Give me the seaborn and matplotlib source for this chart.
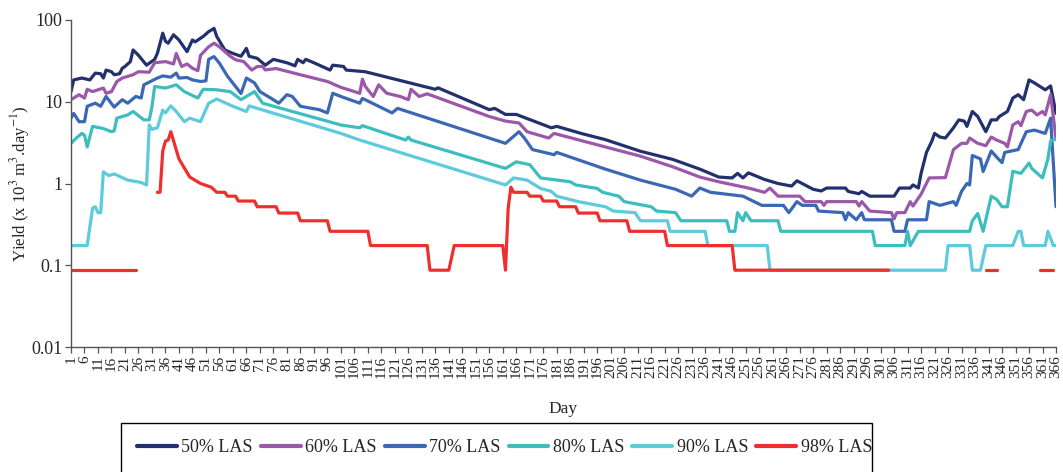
import numpy as np
import pandas as pd
import matplotlib
matplotlib.use('Agg')
import matplotlib.pyplot as plt
from matplotlib.patches import Rectangle
import seaborn as sns

# groundwater yield per level of assurance (LAS)
# each series: breakpoint days and values, np.nan = gap (no yield)
d50 = [1, 2, 5, 8, 10, 12, 13, 14, 16, 17, 19, 20, 21, 23, 24, 26, 29, 32, 33, 35, 36, 37, 39, 41,
       44, 46, 47, 50, 52, 54, 55, 58, 61, 64, 66, 67, 70, 73, 76, 81, 84, 85, 87, 88, 91, 97, 98,
       102, 103, 110, 136, 137, 156, 158, 162, 166, 179, 181, 190, 199, 212, 224, 234, 241, 246,
       248, 250, 252, 258, 263, 268, 270, 276, 279, 281, 288, 289, 293, 294, 297, 306, 308, 312,
       313, 315, 316, 318, 320, 321, 323, 325, 328, 330, 332, 333, 335, 337, 340, 342, 344, 345,
       348, 350, 352, 354, 356, 358, 362, 364, 366]
v50 = [13.3, 18.5, 19.5, 18.5, 22.4, 22, 19.5, 24.4, 23.3, 21.4, 22, 25.7, 27, 31, 43, 37, 28, 33,
       39, 69, 55, 52, 66, 57, 41, 57, 54, 63, 72, 79, 63, 43, 39, 36, 45, 36, 34, 28, 33, 30, 27.5,
       33, 30, 33, 30, 24.4, 28, 27, 24.4, 23.3, 14.2, 14.8, 8, 8.3, 7, 7, 4.8, 5.0, 4.1, 3.44, 2.48,
       1.97, 1.5, 1.2, 1.17, 1.33, 1.17, 1.35, 1.12, 1.0, 0.93, 1.08, 0.85, 0.81, 0.88, 0.88, 0.8,
       0.75, 0.8, 0.7, 0.7, 0.88, 0.88, 0.96, 0.88, 1.33, 2.4, 3.3, 4.1, 3.7, 3.6, 4.8, 6.0, 5.8,
       5.0, 7.6, 6.6, 4.3, 6.0, 6.0, 6.6, 7.6, 11.1, 12.2, 10.6, 18.5, 17, 14, 15.6, 7.2]

d60 = [1, 4, 6, 7, 9, 11, 13, 14, 16, 18, 20, 24, 26, 30, 32, 36, 39, 40, 42, 44, 46, 48, 49, 52,
       54, 56, 60, 62, 65, 68, 70, 72, 73, 77, 86, 96, 101, 108, 109, 110, 113, 115, 118, 123, 126,
       127, 130, 133, 156, 162, 167, 170, 178, 180, 199, 212, 224, 234, 241, 252, 258, 260, 263,
       271, 273, 279, 280, 281, 292, 293, 294, 297, 305, 306, 307, 310, 312, 313, 316, 319, 325,
       328, 331, 333, 334, 337, 340, 342, 344, 347, 348, 350, 352, 353, 355, 357, 359, 361, 362,
       364, 366]
v60 = [10.6, 12.2, 11.1, 14.2, 13.3, 14, 14.7, 12.7, 13.3, 17.7, 19.5, 21.4, 23.3, 23, 30, 31, 29,
       39, 27, 29, 25.7, 24, 37, 47, 52, 47, 36, 32.6, 31, 24.4, 27, 27, 24.5, 25.5, 21.4, 17.7, 15,
       12.7, 18.9, 15.5, 11.6, 16.1, 12.7, 11.6, 10.6, 14.2, 11.6, 12.5, 6.6, 5.8, 5.5, 4.3, 3.6,
       4.1, 2.8, 2.16, 1.6, 1.2, 1.05, 0.88, 0.78, 0.88, 0.7, 0.7, 0.6, 0.6, 0.54, 0.6, 0.6, 0.53,
       0.6, 0.46, 0.44, 0.37, 0.44, 0.44, 0.6, 0.53, 0.74, 1.17, 1.18, 2.6, 3.1, 3.1, 3.6, 3.1, 2.9,
       3.7, 3.4, 3.1, 2.8, 5.2, 5.7, 5.1, 7.6, 7.9, 6.9, 7.6, 6.9, 12.2, 3.5]

d70 = [1, 2, 4, 6, 7, 10, 12, 14, 17, 20, 22, 25, 27, 28, 33, 35, 38, 40, 41, 44, 46, 49, 51, 52,
       54, 56, 59, 61, 64, 66, 69, 71, 75, 78, 81, 83, 86, 93, 96, 98, 101, 108, 109, 120, 122, 162,
       167, 169, 172, 180, 181, 199, 212, 225, 231, 234, 238, 250, 257, 265, 267, 270, 272, 277,
       278, 287, 288, 289, 292, 294, 295, 305, 306, 310, 311, 318, 319, 323, 328, 329, 331, 333,
       334, 335, 338, 339, 342, 344, 346, 347, 352, 355, 358, 362, 364, 366]
v70 = [6.3, 7.2, 5.7, 5.7, 8.8, 9.6, 8.8, 11.6, 8.6, 10.6, 9.6, 11.6, 11.1, 16.1, 19.5, 20.7, 20,
       22.4, 19.5, 19.8, 18.5, 17.7, 18, 33, 35.7, 29.6, 20.5, 16.9, 12.6, 19.5, 17, 13.3, 11.1, 9.6,
       12.2, 11.6, 8.8, 8.0, 7.3, 12.7, 11.6, 9.6, 11, 7.3, 8.3, 3.1, 4.3, 3.6, 2.6, 2.25, 2.4, 1.5,
       1.1, 0.85, 0.7, 0.88, 0.78, 0.7, 0.54, 0.54, 0.44, 0.6, 0.54, 0.54, 0.46, 0.44, 0.36, 0.44,
       0.36, 0.44, 0.36, 0.36, 0.26, 0.26, 0.36, 0.36, 0.6, 0.54, 0.6, 0.54, 0.8, 1.0, 0.96, 2.2,
       2.0, 1.4, 2.5, 2.1, 1.8, 2.4, 2.6, 4.3, 4.5, 4.1, 6.3, 0.52]

d80 = [1, 3, 5, 6, 7, 9, 13, 16, 17, 18, 22, 24, 28, 30, 31, 32, 36, 40, 43, 48, 50, 55, 60, 64,
       69, 72, 101, 108, 109, 125, 126, 127, 162, 166, 171, 175, 186, 188, 196, 198, 204, 206, 216,
       218, 225, 227, 244, 245, 247, 248, 250, 251, 253, 263, 264, 298, 299, 310, 311, 312, 315,
       334, 335, 337, 339, 342, 344, 346, 348, 350, 353, 356, 357, 361, 363, 364, 366]
v80 = [3.1, 3.6, 4.1, 3.9, 2.8, 5.0, 4.7, 4.3, 4.4, 6.3, 6.9, 7.6, 6.0, 6.0, 8.7, 15.4, 14.7,
       16.1, 13.3, 11.1, 14.2, 14, 13.3, 10.6, 13.3, 9.6, 5.2, 4.8, 5.1, 3.4, 3.7, 3.4, 1.53, 1.84,
       1.7, 1.17, 1.05, 0.96, 0.87, 0.78, 0.7, 0.6, 0.52, 0.46, 0.44, 0.35, 0.35, 0.26, 0.26, 0.44,
       0.35, 0.44, 0.35, 0.35, 0.26, 0.26, 0.174, 0.174, 0.26, 0.174, 0.26, 0.26, 0.35, 0.43, 0.26,
       0.7, 0.64, 0.52, 0.52, 1.41, 1.33, 1.78, 1.53, 1.17, 2.0, 3.3, 3.5]

d90 = [1, 7, 9, 10, 11, 12, 13, 15, 17, 22, 27, 29, 30, 31, 33, 35, 36, 38, 40, 43, 45, 49, 52,
       55, 61, 66, 67, 101, 108, 162, 165, 170, 175, 179, 181, 189, 199, 202, 210, 212, 222, 223,
       236, 237, 259, 260, 325, 326, 334, 335, 338, 340, 350, 352, 353, 354, 362, 363, 365, 366]
v90 = [0.174, 0.174, 0.5, 0.52, 0.44, 0.44, 1.39, 1.25, 1.31, 1.1, 1.03, 0.96, 5.2, 4.6, 4.8, 7.9,
       7.3, 8.9, 7.6, 5.7, 6.3, 5.7, 9.6, 10.8, 8.8, 7.6, 8.9, 4.1, 3.4, 0.96, 1.17, 1.1, 0.87, 0.8,
       0.7, 0.6, 0.52, 0.46, 0.44, 0.35, 0.35, 0.26, 0.26, 0.174, 0.174, 0.087, 0.087, 0.174, 0.174,
       0.087, 0.087, 0.174, 0.174, 0.26, 0.26, 0.174, 0.174, 0.26, 0.174, 0.174]

d98 = [1, 25, 29, 33, 34, 35, 36, 37, 38, 41, 45, 49, 53, 55, 58, 59, 62, 63, 69, 70, 77, 78, 85,
       86, 96, 97, 111, 112, 133, 134, 141, 143, 161, 162, 163, 164, 165, 170, 171, 175, 176, 181,
       182, 188, 189, 196, 197, 207, 208, 221, 222, 246, 247, 304, 320, 340, 344, 350, 360, 365]
v98 = [0.087, 0.087, np.nan, 0.78, 0.78, 2.5, 3.3, 3.4, 4.3, 2.0, 1.2, 1.0, 0.9, 0.78, 0.78, 0.7,
       0.7, 0.61, 0.61, 0.52, 0.52, 0.435, 0.435, 0.35, 0.35, 0.26, 0.26, 0.174, 0.174, 0.087,
       0.087, 0.174, 0.174, 0.087, 0.5, 0.9, 0.78, 0.78, 0.7, 0.7, 0.61, 0.61, 0.52, 0.52, 0.435,
       0.435, 0.35, 0.35, 0.26, 0.26, 0.174, 0.174, 0.087, 0.087, np.nan, 0.087, 0.087, np.nan,
       0.087, 0.087]

series = ['50% LAS', '60% LAS', '70% LAS', '80% LAS', '90% LAS', '98% LAS']
colors = ['#22306e', '#9c58a8', '#3b68b4', '#3dbdbe', '#5ccbdb', '#ef2f2d']
days = [d50, d60, d70, d80, d90, d98]
vals = [v50, v60, v70, v80, v90, v98]

# long table, nan splits a series into separate segments
rows = []
for name, dd, vv in zip(series, days, vals):
    seg = 0
    for d, v in zip(dd, vv):
        if np.isnan(v):
            seg += 1
            continue
        rows.append((name, f'{name}-{seg}', d, v))
df = pd.DataFrame(rows, columns=['series', 'seg', 'day', 'yield'])

sns.set_style('ticks')
plt.rcParams['font.family'] = ['Liberation Serif', 'DejaVu Serif']
plt.rcParams['mathtext.fontset'] = 'stix'

fig = plt.figure(figsize=(10.63, 4.72), dpi=100)
ax = fig.add_axes([71 / 1063, 1 - 347 / 472, 985 / 1063, 327 / 472])

sns.lineplot(data=df, x='day', y='yield', hue='series', units='seg', estimator=None,
             hue_order=series, palette=dict(zip(series, colors)), sort=False,
             linewidth=2.3, ax=ax)

ax.set_yscale('log')
ax.set_ylim(0.01, 100)
ax.set_yticks([0.01, 0.1, 1, 10, 100])
ax.set_yticklabels(['0.01', '0.1', '1', '10', '100'], fontsize=13)
ax.yaxis.set_minor_locator(matplotlib.ticker.NullLocator())
ax.set_xlim(1, 366)
xt = list(range(1, 367, 5))
ax.set_xticks(xt)
ax.set_xticklabels([str(t) for t in xt], rotation=90, fontsize=11)
ax.tick_params(axis='both', direction='out', length=4, width=0.9, color='#555555', pad=2)
for s in ['top', 'right']:
    ax.spines[s].set_visible(False)
for s in ['left', 'bottom']:
    ax.spines[s].set_color('#555555')
    ax.spines[s].set_linewidth(1.0)

ax.set_xlabel('Day', fontsize=12.5)
ax.xaxis.set_label_coords(0.5, -0.165)
ax.set_ylabel(r'Yield (x 10$^{3}$ m$^{3}$.day$^{-1}$)', fontsize=12)
ax.yaxis.set_label_coords(-0.040, 0.5)

handles, labels = ax.get_legend_handles_labels()
ax.get_legend().remove()
for h in handles:
    h.set_linewidth(3)
fig.legend(handles, labels, loc='upper left', bbox_to_anchor=(121 / 1063, 1 - 423 / 472),
           ncol=6, frameon=False, fontsize=13, handlelength=2.2, handletextpad=0.25,
           columnspacing=0.45, borderpad=0.4)
fig.patches.append(Rectangle((121 / 1063, -0.05), 751 / 1063, 0.05 + (472 - 423) / 472,
                             transform=fig.transFigure, fill=False, edgecolor='black',
                             linewidth=1.0, clip_on=False))

fig.savefig('out.png', dpi=100)
